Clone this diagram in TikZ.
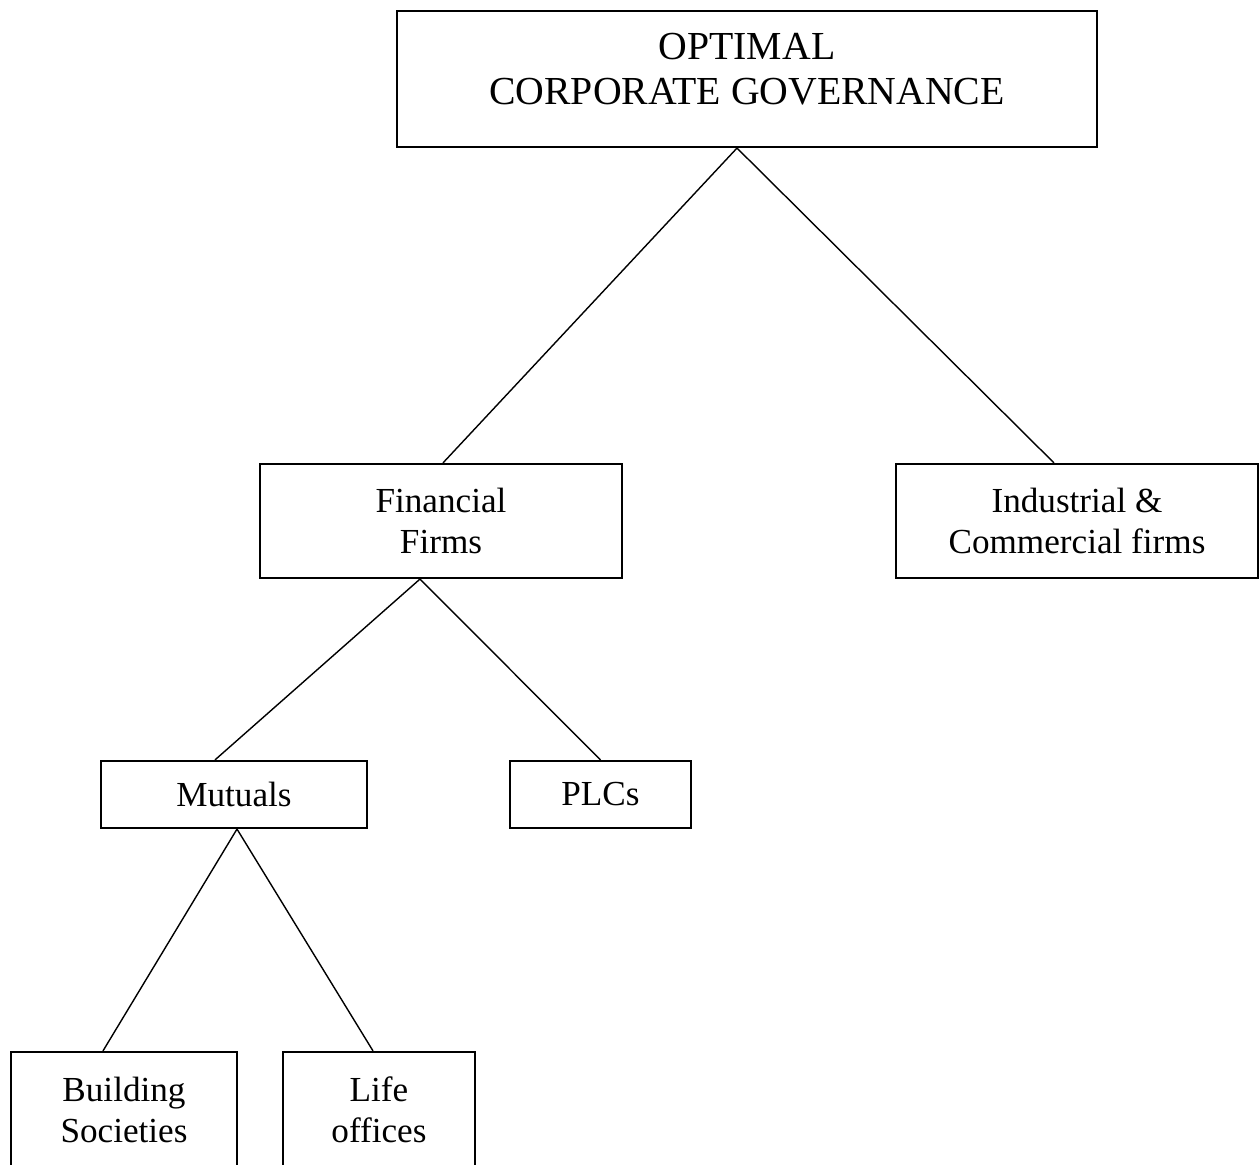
\documentclass[tikz,border=0pt]{standalone}
\usepackage{fontspec}
\setmainfont{Liberation Serif}
\usetikzlibrary{positioning}

\begin{document}
\begin{tikzpicture}[x=0.01cm,y=-0.01cm,line width=0.4pt]
        \useasboundingbox (0,0) rectangle (1260,1165);
        \tikzstyle{box}=[draw,rectangle,line width=0.6pt,inner sep=0pt,align=center,
                         font=\fontsize{10}{11.7}\selectfont]
        \tikzstyle{big box}=[box,font=\fontsize{11.3}{12.8}\selectfont]

        \node[big box,minimum width=7cm,minimum height=1.36cm] (top) at (747,79)
              {OPTIMAL\\CORPORATE GOVERNANCE\\[-6.8pt]\mbox{}};
        \node[box,minimum width=3.62cm,minimum height=1.14cm]  (fin)  at (441,521)  {Financial\\Firms};
        \node[box,minimum width=3.62cm,minimum height=1.14cm]  (ind)  at (1077,521) {Industrial \&\\Commercial firms};
        \node[box,minimum width=2.66cm,minimum height=0.67cm]  (mut)  at (234,794.5) {Mutuals};
        \node[box,minimum width=1.81cm,minimum height=0.67cm]  (plc)  at (600.5,794.5) {PLCs};
        \node[box,minimum width=2.26cm,minimum height=1.16cm]  (bld)  at (124,1110) {Building\\Societies};
        \node[box,minimum width=1.92cm,minimum height=1.16cm]  (life) at (379,1110) {Life\\offices};

        \path
        ([xshift=-1mm]top.south)   edge ([xshift=0.2mm]fin.north)
                                   edge ([xshift=-2.3mm]ind.north)
        ([xshift=-2.1mm]fin.south) edge ([xshift=-1.9mm]mut.north)
                                   edge (plc.north)
        ([xshift=0.3mm]mut.south)  edge ([xshift=-2.1mm]bld.north)
                                   edge ([xshift=-0.6mm]life.north);
\end{tikzpicture}
\end{document}
